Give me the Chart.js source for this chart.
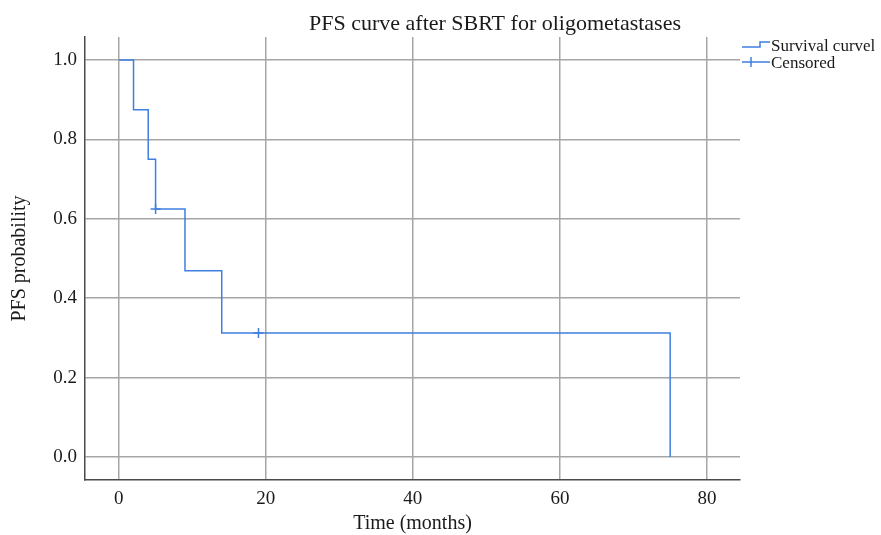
<!DOCTYPE html>
<html>
<head>
<meta charset="utf-8">
<script src="https://cdn.jsdelivr.net/npm/chart.js@4/dist/chart.umd.min.js"></script>
<style>
  html, body { margin: 0; padding: 0; background: #fff; }
  #wrap { width: 881px; height: 535px; }
</style>
</head>
<body>
<div id="wrap"><canvas id="km-chart" width="881" height="535"></canvas></div>
<script>
(function () {
  'use strict';

  // Kaplan-Meier steps (months, PFS probability)
  var stepTimes = [0, 2, 4, 5, 9, 14, 75];
  var stepSurvival = [1.0, 0.875, 0.75, 0.625, 0.469, 0.3125, 0.0];
  var censorTimes = [5, 19];
  var censorSurvival = [0.625, 0.3125];
  var xTicks = [0, 20, 40, 60, 80];
  var yTicks = [0.0, 0.2, 0.4, 0.6, 0.8, 1.0];
  var legendLabels = ['Survival curvel', 'Censored'];

  var serif = '"Liberation Serif", "DejaVu Serif", serif';
  var curveColor = '#3f7fe0';
  var gridColor = '#a6a6a6';
  var axisColor = '#4a4a4a';
  var textColor = '#1a1a1a';

  function toPoints(xs, ys) {
    return xs.map(function (x, i) { return { x: x, y: ys[i] }; });
  }

  var titlePlugin = {
    id: 'kmTitle',
    afterDraw: function (chart) {
      var ctx = chart.ctx;
      ctx.save();
      ctx.font = '22px ' + serif;
      ctx.fillStyle = textColor;
      ctx.textAlign = 'center';
      ctx.textBaseline = 'middle';
      ctx.fillText('PFS curve after SBRT for oligometastases', 495, 24);
      ctx.restore();
    }
  };

  var legendPlugin = {
    id: 'kmLegend',
    afterDraw: function (chart) {
      var ctx = chart.ctx;
      var x0 = chart.chartArea.right + 2;
      ctx.save();
      ctx.strokeStyle = curveColor;
      ctx.lineWidth = 1.5;

      // step icon
      ctx.beginPath();
      ctx.moveTo(x0, 47);
      ctx.lineTo(x0 + 18, 47);
      ctx.lineTo(x0 + 18, 42);
      ctx.lineTo(x0 + 28, 42);
      ctx.stroke();

      // censor icon
      ctx.beginPath();
      ctx.moveTo(x0, 62);
      ctx.lineTo(x0 + 28, 62);
      ctx.moveTo(x0 + 9, 57);
      ctx.lineTo(x0 + 9, 67);
      ctx.stroke();

      ctx.font = '17px ' + serif;
      ctx.fillStyle = textColor;
      ctx.textAlign = 'left';
      ctx.textBaseline = 'middle';
      ctx.fillText(legendLabels[0], x0 + 29, 47);
      ctx.fillText(legendLabels[1], x0 + 29, 64);
      ctx.restore();
    }
  };

  var ctx = document.getElementById('km-chart').getContext('2d');
  window.kmChart = new Chart(ctx, {
    type: 'scatter',
    data: {
      datasets: [
        {
          label: legendLabels[0],
          data: toPoints(stepTimes, stepSurvival),
          showLine: true,
          stepped: 'before',
          borderColor: curveColor,
          borderWidth: 1.5,
          pointRadius: 0,
          fill: false
        },
        {
          label: legendLabels[1],
          data: toPoints(censorTimes, censorSurvival),
          showLine: false,
          pointStyle: 'cross',
          pointRadius: 5,
          borderColor: curveColor,
          borderWidth: 1.5
        }
      ]
    },
    options: {
      responsive: false,
      animation: false,
      layout: { padding: { left: 0, right: 141, top: 37, bottom: 0 } },
      plugins: {
        legend: { display: false },
        title: { display: false },
        tooltip: { enabled: false }
      },
      scales: {
        x: {
          type: 'linear',
          min: -4.6,
          max: 84.5,
          afterBuildTicks: function (scale) {
            scale.ticks = xTicks.map(function (v) { return { value: v }; });
          },
          afterFit: function (scale) { scale.height = 55; },
          grid: { color: gridColor, lineWidth: 1.5, drawTicks: false },
          border: { color: axisColor, width: 1.5 },
          ticks: {
            padding: 8,
            color: textColor,
            font: { family: serif, size: 19 },
            maxRotation: 0
          },
          title: {
            display: true,
            text: 'Time (months)',
            color: textColor,
            font: { family: serif, size: 20, lineHeight: 1 },
            padding: { top: 0, bottom: 1 }
          }
        },
        y: {
          type: 'linear',
          min: -0.058,
          max: 1.058,
          afterBuildTicks: function (scale) {
            scale.ticks = yTicks.map(function (v) { return { value: v }; });
          },
          afterFit: function (scale) { scale.width = 85; },
          grid: { color: gridColor, lineWidth: 1.5, drawTicks: false },
          border: { color: axisColor, width: 1.5 },
          ticks: {
            padding: 8,
            color: textColor,
            font: { family: serif, size: 19 },
            callback: function (v) { return Number(v).toFixed(1); }
          },
          title: {
            display: true,
            text: 'PFS probability',
            color: textColor,
            font: { family: serif, size: 20 },
            padding: { top: 8, bottom: 0 }
          }
        }
      }
    },
    plugins: [titlePlugin, legendPlugin]
  });
})();
</script>
</body>
</html>
